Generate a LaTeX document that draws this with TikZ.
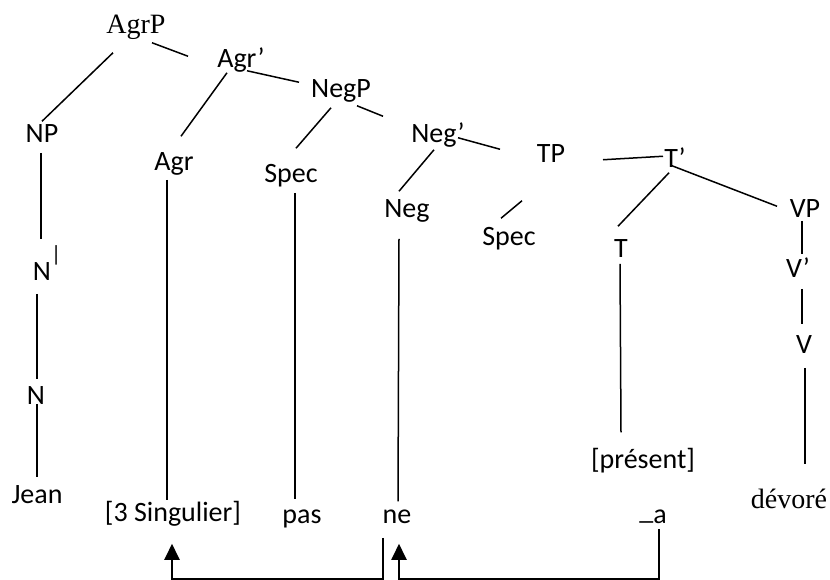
\documentclass[tikz,border=0pt]{standalone}
\usepackage{fontspec}
\setmainfont{Carlito}
\newfontfamily\serifword{Liberation Serif}
\usetikzlibrary{arrows.meta}

\begin{document}
\begin{tikzpicture}[x=1pt, y=-1pt, line width=1.5pt,
  synnode/.style={anchor=base, inner sep=1pt, text height=19pt, text depth=5pt,
    font=\fontsize{28}{34}\selectfont},
  sernode/.style={synnode, font=\serifword\fontsize{28}{34}\selectfont},
  movearrow/.style={line width=1.9pt, -{Triangle[length=16pt,width=15pt]}}]
  \useasboundingbox (0,0) rectangle (830,579);
  % projections
  \node[sernode] (agrp) at (136,33) {AgrP};
  \node[synnode] (agrbar) at (241,67) {Agr’};
  \node[synnode] (negp) at (341,97) {NegP};
  \node[synnode] (negbar) at (438,142) {Neg’};
  \node[synnode] (tp) at (551,162) {TP};
  \node[synnode] (tbar) at (675,167) {T’};
  \node[synnode] (np) at (42,142) {NP};
  \node[synnode] (nbar) at (42,280) {N\rlap{\raisebox{19pt}{\fontsize{22}{22}\selectfont |}}};
  \node[synnode] (n) at (36,404) {N};
  \node[synnode] (agr) at (174,170) {Agr};
  \node[synnode] (spec) at (291,182) {Spec};
  \node[synnode] (neg) at (407,217) {Neg};
  \node[synnode] (spectp) at (509,245) {Spec};
  \node[synnode] (t) at (621,257) {T};
  \node[synnode] (vp) at (805,217) {VP};
  \node[synnode] (vbar) at (798,277) {V’};
  \node[synnode] (v) at (804,353) {V};
  % words
  \node[synnode] (jean) at (37,503) {Jean};
  \node[synnode] (sing) at (173,521) {[3 Singulier]};
  \node[synnode] (pas) at (302,523) {pas};
  \node[synnode] (ne) at (397,523) {ne};
  \node[synnode] (pres) at (643,468) {[présent]};
  \node[synnode] (a) at (653,523) {\raisebox{3.5pt}{\_}a};
  \node[sernode] (devore) at (789,508) {dévoré};

  % branches
  \draw ([shift={(-23,13)}]agrp.south) -- (np.north);
  \draw ([shift={(16,3)}]agrp.south) -- ([shift={(-53,10)}]agrbar.north);
  \draw ([shift={(-14,-1)}]agrbar.south) -- ([shift={(7,-13)}]agr.north);
  \draw ([shift={(6,-3)}]agrbar.south) -- ([shift={(-42,6)}]negp.north);
  \draw ([shift={(-10,4)}]negp.south) -- ([shift={(5,-13)}]spec.north);
  \draw ([shift={(16,2)}]negp.south) -- ([shift={(-55,-5)}]negbar.north);
  \draw ([shift={(-4,1)}]negbar.south) -- ([shift={(-8,-5)}]neg.north);
  \draw ([shift={(20,-11)}]negbar.south) -- ([shift={(-51,8)}]tp.north);
  \draw ([shift={(-29,32)}]tp.south) -- ([shift={(-8,-6)}]spectp.north);
  \draw ([shift={(52,-9)}]tp.south) -- ([shift={(-12,10)}]tbar.north);
  \draw ([shift={(-6,-1)}]tbar.south) -- ([shift={(-3,-10)}]t.north);
  \draw ([shift={(-3,-8)}]tbar.south) -- ([shift={(-28,10)}]vp.north);
  \draw ([shift={(-1,4)}]np.south) -- ([shift={(-1,-20)}]nbar.north);
  \draw ([shift={(-5,7)}]nbar.south) -- ([shift={(1,-4)}]n.north);
  \draw ([shift={(-3,-3)}]vp.south) -- ([shift={(4,-2)}]vbar.north);
  \draw ([shift={(4,5)}]vbar.south) -- ([shift={(-2,-8)}]v.north);
  % down to the words
  \draw ([shift={(1,-7)}]n.south) -- ([shift={(0,-5)}]jean.north);
  \draw ([shift={(-7,3)}]agr.south) -- ([shift={(-6,0)}]sing.north);
  \draw ([shift={(4,4)}]spec.south) -- ([shift={(-7,-3)}]pas.north);
  \draw ([shift={(-8,15)}]neg.south) -- ([shift={(1,-1)}]ne.north);
  \draw ([shift={(-1,0)}]t.south) -- ([shift={(-22,-15)}]pres.north);
  \draw ([shift={(1,8)}]v.south) -- ([shift={(16,-23)}]devore.north);

  % movements
  \draw[movearrow] ([shift={(-14,8)}]ne.south) -- ++(0,41) -| ([shift={(-1,16)}]sing.south);
  \draw[movearrow] ([shift={(6,-1)}]a.south) -- ++(0,50) -| ([shift={(2,14)}]ne.south);
\end{tikzpicture}
\end{document}
